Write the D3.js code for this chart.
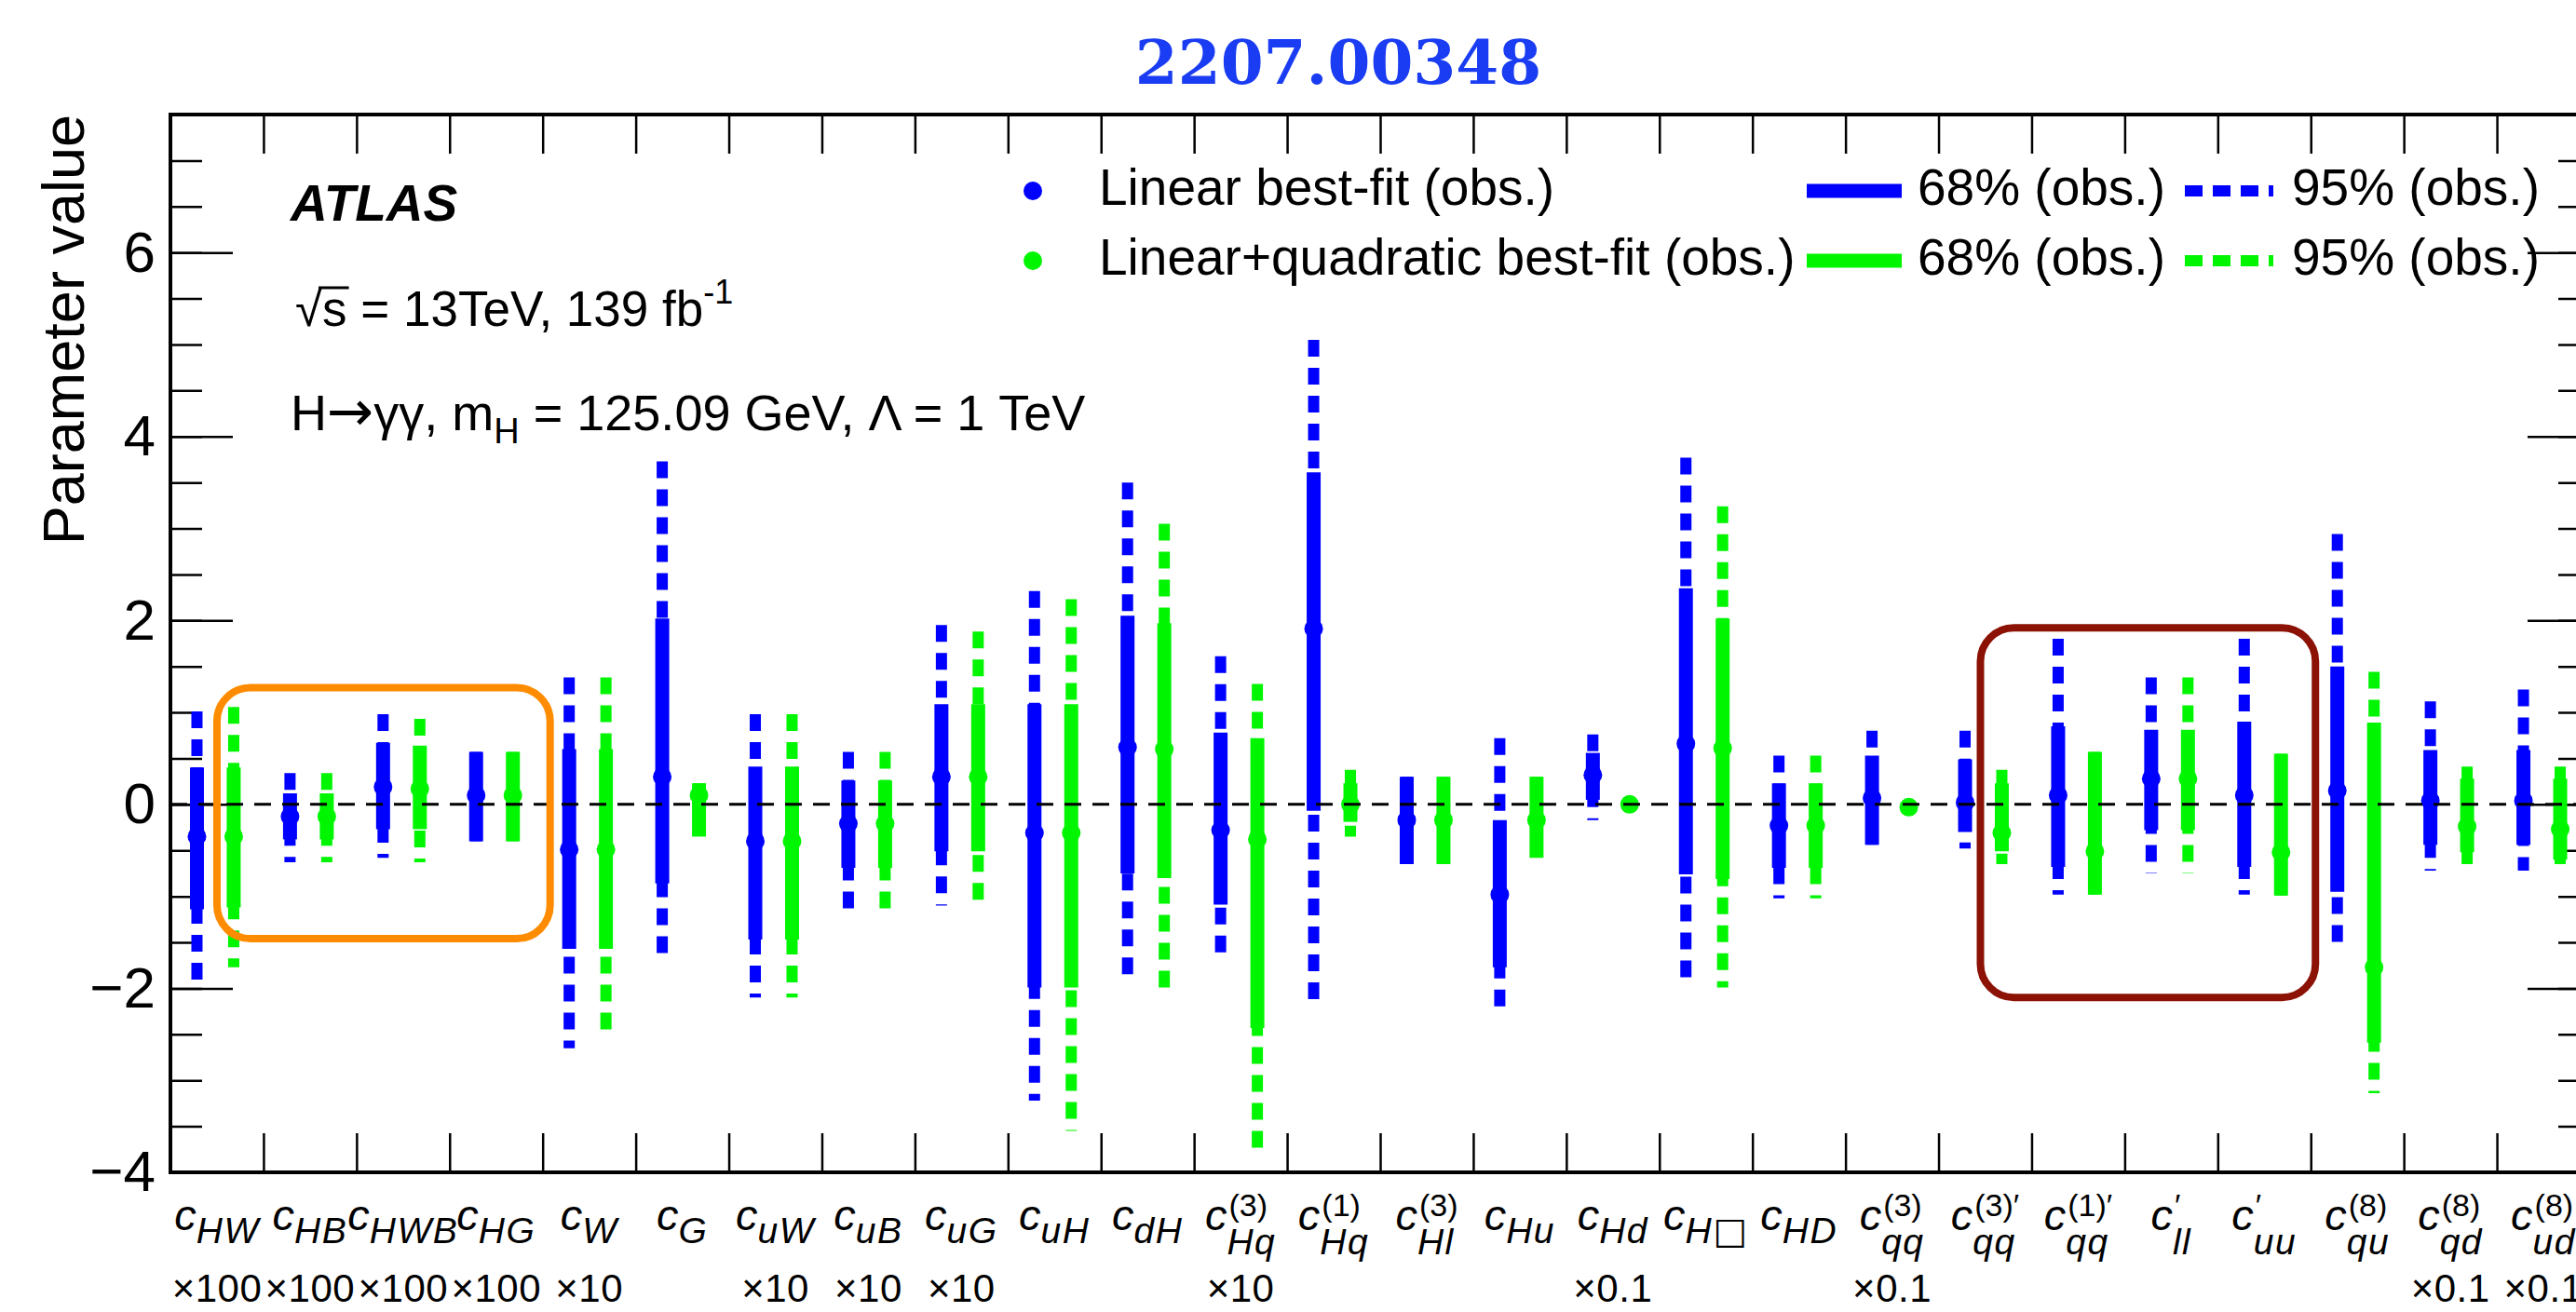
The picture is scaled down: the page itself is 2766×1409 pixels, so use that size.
<!DOCTYPE html>
<meta charset="utf-8">
<head>
<script src="https://cdn.jsdelivr.net/npm/d3@7"></script>
<style>
body { margin:0; background:#fff; }
svg text { font-family: "Liberation Sans", Arial, Helvetica, sans-serif; fill:#000; }
</style>
</head>
<body>
<svg id="chart"></svg>
<script>

// Wilson coefficients, in plotting order
var categories = ['cHW','cHB','cHWB','cHG','cW','cG','cuW','cuB','cuG','cuH','cdH','cHq3','cHq1','cHl3','cHu','cHd','cHbox','cHD','cqq3','cqq3p','cqq1p','cllp','cuup','cqu8','cqd8','cud8'];
var subLabels = ['HW','HB','HWB','HG','W','G','uW','uB','uG','uH','dH','Hq','Hq','Hl','Hu','Hd','H\u25A1','HD','qq','qq','qq','ll','uu','qu','qd','ud'];
var supLabels = ['','','','','','','','','','','','(3)','(1)','(3)','','','','','(3)','(3)\u2032','(1)\u2032','\u2032','\u2032','(8)','(8)','(8)'];
var scaleLabels = ['\u00D7100','\u00D7100','\u00D7100','\u00D7100','\u00D710','','\u00D710','\u00D710','\u00D710','','','\u00D710','','','','\u00D70.1','','','\u00D70.1','','','','','','\u00D70.1','\u00D70.1'];

// linear fit (blue)
var linBest = [-0.35,-0.13,0.19,0.10,-0.49,0.30,-0.40,-0.21,0.30,-0.31,0.62,-0.28,1.91,-0.17,-0.98,0.32,0.66,-0.23,0.07,0.02,0.10,0.28,0.10,0.15,0.04,0.04];
var lin68Lo = [-1.14,-0.38,-0.27,-0.40,-1.57,-0.86,-1.47,-0.69,-0.51,-1.99,-0.75,-1.09,-0.07,-0.65,-1.77,0.05,-0.76,-0.69,-0.44,-0.30,-0.68,-0.28,-0.68,-0.95,-0.44,-0.44];
var lin68Hi = [0.40,0.12,0.67,0.57,0.60,2.02,0.41,0.26,1.09,1.09,2.05,0.78,3.61,0.30,-0.17,0.56,2.35,0.23,0.53,0.49,0.85,0.81,0.90,1.50,0.59,0.59];
var lin95Lo = [-1.95,-0.63,-0.58,-0.40,-2.65,-1.69,-2.10,-1.18,-1.10,-3.22,-1.88,-1.69,-2.22,-0.65,-2.22,-0.17,-1.95,-1.02,-0.44,-0.48,-0.98,-0.75,-0.98,-1.54,-0.72,-0.72];
var lin95Hi = [1.01,0.34,0.98,0.57,1.38,3.73,0.98,0.57,1.95,2.32,3.50,1.61,5.05,0.30,0.72,0.76,3.77,0.53,0.80,0.80,1.80,1.38,1.80,2.94,1.12,1.25];

// linear+quadratic fit (green)
var quadBest = [-0.35,-0.13,0.17,0.10,-0.49,0.10,-0.40,-0.21,0.30,-0.31,0.60,-0.38,0.00,-0.17,-0.17,0.00,0.61,-0.23,-0.03,-0.31,-0.51,0.28,-0.52,-1.77,-0.24,-0.27];
var quad68Lo = [-1.12,-0.38,-0.27,-0.40,-1.57,-0.35,-1.47,-0.69,-0.51,-1.99,-0.80,-2.43,-0.19,-0.65,-0.58,-0.05,-0.81,-0.69,-0.08,-0.51,-0.98,-0.28,-0.99,-2.59,-0.52,-0.60];
var quad68Hi = [0.40,0.12,0.64,0.57,0.60,0.23,0.41,0.26,1.09,1.09,1.97,0.72,0.23,0.30,0.30,0.05,2.02,0.23,0.03,0.23,0.57,0.81,0.55,0.89,0.28,0.28];
var quad95Lo = [-1.77,-0.63,-0.63,-0.40,-2.48,-0.35,-2.10,-1.18,-1.10,-3.55,-2.03,-3.85,-0.35,-0.65,-0.58,-0.08,-1.99,-1.02,-0.10,-0.65,-0.98,-0.75,-0.99,-3.14,-0.65,-0.65];
var quad95Hi = [1.06,0.34,0.93,0.57,1.38,0.23,0.98,0.57,1.88,2.23,3.05,1.31,0.375,0.30,0.30,0.08,3.24,0.53,0.05,0.375,0.57,1.38,0.55,1.44,0.41,0.41];

var yMajorTicks = [-4,-2,0,2,4,6];
var yMinorTicks = d3.range(-4, 7.51, 0.5);

// highlight boxes: bin-index span and value span
var boxFrom = [0.5, 19.45];
var boxTo = [4.08, 23.05];
var boxTop = [1.27, 1.92];
var boxBottom = [-1.46, -2.10];
var boxColor = ['#ff8c00', '#8b1205'];

var width = 2766, height = 1409;
var plotL = 183, plotR = 2781, plotT = 123, plotB = 1259;
var blue = '#0000ff', green = '#00f500';

var svg = d3.select('#chart').attr('width', width).attr('height', height);

var x = d3.scaleBand().domain(categories).range([plotL, plotR]).padding(0);
var xIdx = d3.scaleLinear().domain([0, categories.length]).range([plotL, plotR]);
var y = d3.scaleLinear().domain([-4, 7.5]).range([plotB, plotT]);

// title
svg.append('text')
   .attr('x', 1437).attr('y', 90)
   .attr('text-anchor', 'middle')
   .style('font-family', '"DejaVu Serif", serif')
   .style('font-weight', 'bold')
   .style('font-size', '66px')
   .style('fill', '#1a3cf2')
   .text('2207.00348');

// axes ticks (all drawn inward)
function styleAxis(g){
  g.select('.domain').remove();
  g.selectAll('line').attr('stroke', '#000').attr('stroke-width', 2.5);
  g.selectAll('text').style('font-family', '"Liberation Sans", Arial, sans-serif').style('font-size', '62px').attr('fill', '#000');
}

svg.append('g').attr('transform', 'translate('+plotL+',0)')
   .call(d3.axisLeft(y).tickValues(yMinorTicks).tickSize(-34).tickFormat(''))
   .call(styleAxis);
svg.append('g').attr('transform', 'translate('+plotL+',0)')
   .call(d3.axisLeft(y).tickValues(yMajorTicks).tickSizeInner(-67).tickSizeOuter(0).tickPadding(16)
     .tickFormat(function(d){ return d < 0 ? '\u2212' + Math.abs(d) : d; }))
   .call(styleAxis);
svg.append('g').attr('transform', 'translate('+plotR+',0)')
   .call(d3.axisRight(y).tickValues(yMinorTicks).tickSize(-34).tickFormat(''))
   .call(styleAxis);
svg.append('g').attr('transform', 'translate('+plotR+',0)')
   .call(d3.axisRight(y).tickValues(yMajorTicks).tickSize(-67).tickFormat(''))
   .call(styleAxis);
svg.append('g').attr('transform', 'translate(0,'+plotB+')')
   .call(d3.axisBottom(xIdx).tickValues(d3.range(1, categories.length)).tickSize(-42).tickFormat(''))
   .call(styleAxis);
svg.append('g').attr('transform', 'translate(0,'+plotT+')')
   .call(d3.axisTop(xIdx).tickValues(d3.range(1, categories.length)).tickSize(-42).tickFormat(''))
   .call(styleAxis);

// frame
svg.append('rect')
   .attr('x', plotL).attr('y', plotT)
   .attr('width', plotR - plotL).attr('height', plotB - plotT)
   .attr('fill', 'none').attr('stroke', '#000').attr('stroke-width', 4);

// y title
svg.append('text')
   .attr('transform', 'translate(90,'+plotT+') rotate(-90)')
   .attr('text-anchor', 'end')
   .style('font-size', '63px')
   .text('Parameter value');

// interval bars
function drawSeries(best, lo68, hi68, lo95, hi95, color, frac){
  var rows = categories.map(function(c, i){
    return {cx: x(c) + frac * x.bandwidth(), best: best[i], lo68: lo68[i], hi68: hi68[i], lo95: lo95[i], hi95: hi95[i]};
  });
  var g = svg.append('g');
  g.selectAll('.b95').data(rows).enter().append('line')
   .attr('x1', function(d){ return d.cx; }).attr('x2', function(d){ return d.cx; })
   .attr('y1', function(d){ return y(d.hi95); }).attr('y2', function(d){ return y(d.lo95); })
   .attr('stroke', color).attr('stroke-width', 12).attr('stroke-dasharray', '18,12');
  g.selectAll('.b68').data(rows).enter().append('line')
   .attr('x1', function(d){ return d.cx; }).attr('x2', function(d){ return d.cx; })
   .attr('y1', function(d){ return y(d.hi68); }).attr('y2', function(d){ return y(d.lo68); })
   .attr('stroke', color).attr('stroke-width', 15);
  g.selectAll('circle').data(rows).enter().append('circle')
   .attr('cx', function(d){ return d.cx; })
   .attr('cy', function(d){ return y(d.best); })
   .attr('r', 10).attr('fill', color);
}
drawSeries(linBest, lin68Lo, lin68Hi, lin95Lo, lin95Hi, blue, 0.285);
drawSeries(quadBest, quad68Lo, quad68Hi, quad95Lo, quad95Hi, green, 0.68);

// zero line
svg.append('line')
   .attr('x1', plotL).attr('x2', plotR)
   .attr('y1', y(0)).attr('y2', y(0))
   .attr('stroke', '#000').attr('stroke-width', 3).attr('stroke-dasharray', '18,12');

// highlight boxes
svg.selectAll('.hbox').data(boxColor).enter().append('rect')
   .attr('x', function(d, i){ return xIdx(boxFrom[i]); })
   .attr('y', function(d, i){ return y(boxTop[i]); })
   .attr('width', function(d, i){ return xIdx(boxTo[i]) - xIdx(boxFrom[i]); })
   .attr('height', function(d, i){ return y(boxBottom[i]) - y(boxTop[i]); })
   .attr('rx', 36).attr('ry', 36)
   .attr('fill', 'none').attr('stroke', function(d){ return d; }).attr('stroke-width', 8);

// x labels: c with sub/superscripts
categories.forEach(function(cat, i){
  var g = svg.append('g');
  var c = g.append('text').attr('x', 0).attr('y', 1321)
           .style('font-style', 'italic').style('font-size', '47px').text('c');
  var cw = c.node().getComputedTextLength();
  var hasSup = supLabels[i] !== '';
  var sub = g.append('text').attr('x', cw).attr('y', hasSup ? 1347 : 1335)
             .style('font-style', 'italic').style('font-size', '39px')
             .style('letter-spacing', '1.5px');
  var parts = subLabels[i].split('\u25A1');
  sub.append('tspan').text(parts[0]);
  if (parts.length > 1) {
    sub.append('tspan').style('font-style', 'normal').style('font-family', '"DejaVu Sans", sans-serif').text('\u25A1');
  }
  var w = sub.node().getComputedTextLength();
  if (hasSup) {
    var sup = g.append('text').attr('x', cw + 2).attr('y', 1306)
               .style('font-size', '34px').text(supLabels[i]);
    w = Math.max(w, sup.node().getComputedTextLength() + 2);
  }
  var total = cw + w;
  g.attr('transform', 'translate('+(x(cat) + x.bandwidth()/2 - total/2)+',0)');
});

svg.append('g').selectAll('text').data(categories).enter().append('text')
   .attr('x', function(d){ return x(d) + x.bandwidth()/2; })
   .attr('y', 1398)
   .attr('text-anchor', 'middle')
   .style('font-size', '42px')
   .style('letter-spacing', '0.5px')
   .text(function(d, i){ return scaleLabels[i]; });

// ATLAS label and info text
svg.append('text').attr('x', 312).attr('y', 237)
   .style('font-weight', 'bold').style('font-style', 'italic').style('font-size', '55px')
   .text('ATLAS');

var t1 = svg.append('text').attr('x', 317).attr('y', 350).style('font-size', '53px');
t1.append('tspan').text('\u221As = 13TeV, 139 fb');
t1.append('tspan').attr('dy', -24).style('font-size', '36px').text('-1');
var sStart = t1.node().getStartPositionOfChar(1).x;
var sEnd = t1.node().getEndPositionOfChar(1).x;
svg.append('line').attr('x1', sStart - 4).attr('x2', sEnd + 2).attr('y1', 309).attr('y2', 309)
   .attr('stroke', '#000').attr('stroke-width', 3);

var t2 = svg.append('text').attr('x', 312).attr('y', 462).style('font-size', '54px');
t2.append('tspan').text('H');
t2.append('tspan').style('font-family', '"DejaVu Sans", sans-serif').style('font-size', '60px').text('\u2192');
t2.append('tspan').text('\u03B3\u03B3, m');
t2.append('tspan').attr('dy', 14).style('font-size', '38px').text('H');
t2.append('tspan').attr('dy', -14).text(' = 125.09 GeV, \u039B = 1 TeV');

// legend
var legRows = [
  {y: 205, color: blue, label: 'Linear best-fit (obs.)'},
  {y: 280, color: green, label: 'Linear+quadratic best-fit (obs.)'}
];
var leg = svg.append('g');
legRows.forEach(function(r){
  leg.append('circle').attr('cx', 1109).attr('cy', r.y).attr('r', 10).attr('fill', r.color);
  leg.append('text').attr('x', 1180).attr('y', r.y + 15).style('font-size', '55px').text(r.label);
  leg.append('line').attr('x1', 1940).attr('x2', 2042).attr('y1', r.y).attr('y2', r.y)
     .attr('stroke', r.color).attr('stroke-width', 15);
  leg.append('text').attr('x', 2059).attr('y', r.y + 15).style('font-size', '55px').text('68% (obs.)');
  leg.append('line').attr('x1', 2346).attr('x2', 2441).attr('y1', r.y).attr('y2', r.y)
     .attr('stroke', r.color).attr('stroke-width', 12).attr('stroke-dasharray', '19,11');
  leg.append('text').attr('x', 2461).attr('y', r.y + 15).style('font-size', '55px').text('95% (obs.)');
});

</script>
</body>
